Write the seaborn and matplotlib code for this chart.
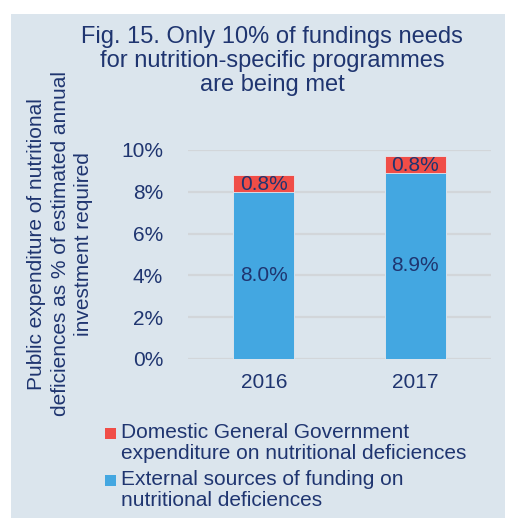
import matplotlib
matplotlib.use("Agg")
import matplotlib.pyplot as plt
from matplotlib.patches import Rectangle
import seaborn as sns
import pandas as pd

years = ["2016", "2017"]
external = [8.0, 8.9]
domestic = [0.8, 0.8]
yticks = [0, 2, 4, 6, 8, 10]
title = "Fig. 15. Only 10% of fundings needs\nfor nutrition-specific programmes\nare being met"
ylabel = "Public expenditure of nutritional\ndeficiences as % of estimated annual\ninvestment required"
legend_labels = ["Domestic General Government\nexpenditure on nutritional deficiences",
                 "External sources of funding on\nnutritional deficiences"]

BLUE = "#43a7e1"
RED = "#f04d47"
NAVY = "#1f3570"
BG = "#dbe5ed"
GRID = "#d2d6da"

sns.set_theme(style="white")
plt.rcParams["font.family"] = ["Liberation Sans", "DejaVu Sans"]

W, H = 505, 518
fig = plt.figure(figsize=(W / 100, H / 100), dpi=100)
fig.patch.set_facecolor("white")
fig.patches.append(Rectangle((11 / W, 0), 1 - 11 / W, (H - 14) / H,
                             transform=fig.transFigure, facecolor=BG,
                             edgecolor="none", zorder=-10))

ax = fig.add_axes([188 / W, 1 - 359 / H, (491 - 188) / W, (359 - 150) / H])
ax.set_facecolor("none")

df = pd.DataFrame({"year": years, "external": external, "domestic": domestic})
df["total"] = df["external"] + df["domestic"]

sns.barplot(data=df, x="year", y="total", color=RED, width=0.4, ax=ax,
            edgecolor="#e6e9ee", linewidth=0.6, saturation=1, zorder=3)
sns.barplot(data=df, x="year", y="external", color=BLUE, width=0.4, ax=ax,
            edgecolor="#e6e9ee", linewidth=0.6, saturation=1, zorder=4)

for i, (e, d) in enumerate(zip(external, domestic)):
    ax.text(i, e / 2, f"{e:.1f}%", ha="center", va="center", fontsize=15,
            color=NAVY, zorder=5)
    ax.text(i, e + d / 2 - 0.05, f"{d:.1f}%", ha="center", va="center",
            fontsize=15, color=NAVY, zorder=5)

ax.set_ylim(0, 10)
ax.set_xlim(-0.5, 1.5)
ax.set_yticks(yticks)
ax.set_yticklabels([f"{t}%" for t in yticks])
ax.yaxis.grid(True, color=GRID, linewidth=1.6, zorder=0)
ax.set_axisbelow(True)
for s in ax.spines.values():
    s.set_visible(False)
ax.tick_params(axis="y", length=0, pad=18, labelsize=15, labelcolor=NAVY)
ax.tick_params(axis="x", length=0, pad=10, labelsize=15, labelcolor=NAVY)
ax.set_xlabel("")
ax.set_ylabel("")

fig.text(272 / W, 1 - 26 / H, title, ha="center", va="top", fontsize=17,
         color=NAVY, linespacing=1.12, multialignment="center")

fig.text(60 / W, 1 - 244 / H, ylabel, ha="center", va="center", rotation=90,
         fontsize=15, color=NAVY, linespacing=1.28, multialignment="center")

colors = [RED, BLUE]
tops = [423, 470]
sq_tops = [428, 475]
for lab, c, t, st in zip(legend_labels, colors, tops, sq_tops):
    fig.patches.append(Rectangle((105 / W, 1 - (st + 11) / H), 11 / W, 11 / H,
                                 transform=fig.transFigure, facecolor=c,
                                 edgecolor="none"))
    fig.text(121 / W, 1 - t / H, lab, ha="left", va="top", fontsize=15,
             color=NAVY, linespacing=1.15)

fig.savefig("out.png", dpi=100, facecolor=fig.get_facecolor())
